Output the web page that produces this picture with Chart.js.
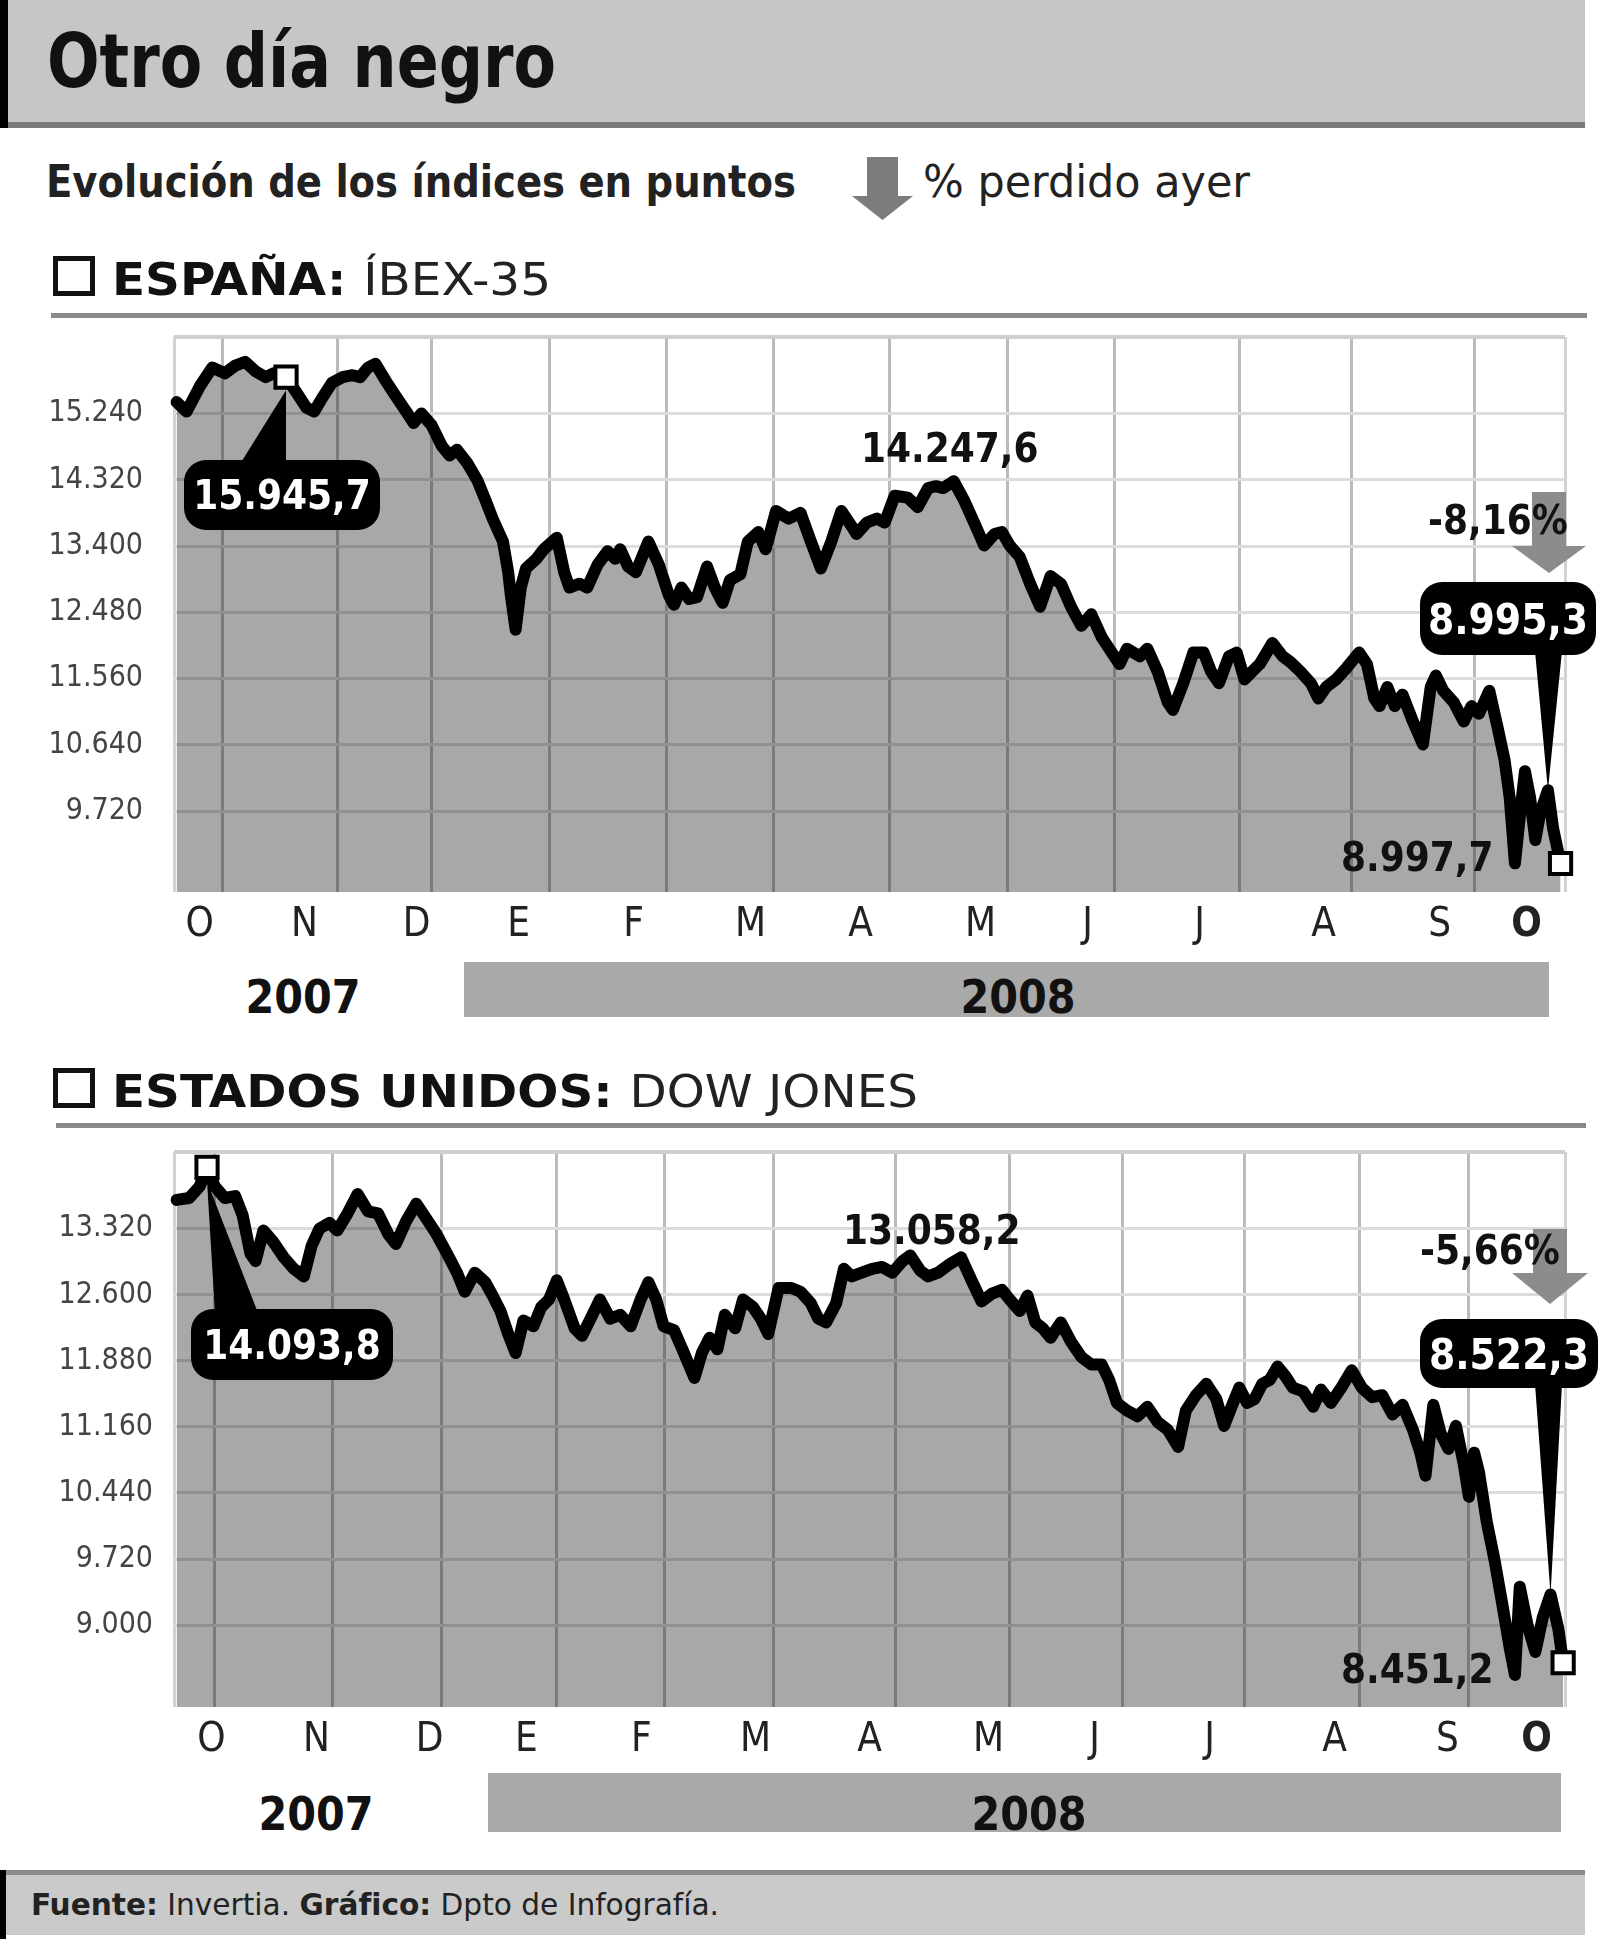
<!DOCTYPE html>
<html lang="es">
<head>
<meta charset="utf-8">
<title>Otro día negro</title>
<script src="https://cdn.jsdelivr.net/npm/chart.js@4.4.1/dist/chart.umd.min.js"></script>
<style>
  html, body { margin: 0; padding: 0; background: #fff; }
  body { position: relative; width: 1600px; height: 1939px; overflow: hidden;
         font-family: 'DejaVu Sans Condensed', 'DejaVu Sans', sans-serif; color: #111; }
  .abs { position: absolute; }
  .txt { position: absolute; white-space: nowrap; line-height: 1; transform-origin: 0 0; }
  .b { font-weight: bold; }
  .r { font-weight: normal; }
  .yr { position: absolute; width: 200px; text-align: center; font-weight: bold; font-size: 46px; line-height: 1; color: #111; }
  canvas { position: absolute; left: 0; }
</style>
</head>
<body>
<!-- header -->
<div class="abs" style="left:0;top:0;width:1585px;height:122px;background:#c6c6c6"></div>
<div class="abs" style="left:0;top:122px;width:1585px;height:6px;background:#7a7a7a"></div>
<div class="abs" style="left:0;top:0;width:8px;height:128px;background:#000"></div>
<div class="txt b" data-w="509" style="left:47px;top:24px;font-size:75px">Otro día negro</div>

<div class="txt b" data-w="750" style="left:46px;top:159px;font-size:45px;color:#222">Evolución de los índices en puntos</div>
<svg class="abs" style="left:852px;top:157px" width="61" height="63">
  <polygon points="15,0 46,0 46,39 61,39 30.5,63 0,39 15,39" fill="#7c7c7c"/>
</svg>
<div class="txt r" data-w="327" style="left:923px;top:159px;font-size:45px;color:#222">% perdido ayer</div>

<!-- section 1 -->
<div class="abs" style="left:53px;top:256px;width:32px;height:30px;border:5px solid #111;background:#fff"></div>
<div class="txt" data-w="439" style="left:112px;top:258px;font-size:44px"><span class="b">ESPAÑA: </span><span class="r" style="color:#222">ÍBEX-35</span></div>
<div class="abs" style="left:51px;top:313px;width:1536px;height:5px;background:#8a8a8a"></div>

<canvas id="ibex" width="1600" height="640" style="top:320px"></canvas>

<div class="abs" style="left:464px;top:962px;width:1085px;height:55px;background:#a9a9a9"></div>
<div class="yr" style="left:203px;top:974px">2007</div>
<div class="yr" style="left:918px;top:974px">2008</div>

<!-- section 2 -->
<div class="abs" style="left:53px;top:1068px;width:32px;height:30px;border:5px solid #111;background:#fff"></div>
<div class="txt" data-w="806" style="left:112px;top:1069px;font-size:45px"><span class="b">ESTADOS UNIDOS: </span><span class="r" style="color:#222">DOW JONES</span></div>
<div class="abs" style="left:56px;top:1123px;width:1530px;height:5px;background:#8a8a8a"></div>

<canvas id="dow" width="1600" height="640" style="top:1135px"></canvas>

<div class="abs" style="left:488px;top:1773px;width:1073px;height:59px;background:#a9a9a9"></div>
<div class="yr" style="left:216px;top:1791px">2007</div>
<div class="yr" style="left:929px;top:1791px">2008</div>

<!-- footer -->
<div class="abs" style="left:0;top:1870px;width:1585px;height:65px;background:#cacaca"></div>
<div class="abs" style="left:0;top:1870px;width:1585px;height:5px;background:#8a8a8a"></div>
<div class="abs" style="left:0;top:1870px;width:6px;height:69px;background:#000"></div>
<div class="txt" data-w="688" style="left:31px;top:1890px;font-size:30px;color:#222"><span class="b">Fuente:</span> <span class="r">Invertia.</span> <span class="b">Gráfico:</span> <span class="r">Dpto de Infografía.</span></div>

<script>
// month initials along the x axis
const months = ['O', 'N', 'D', 'E', 'F', 'M', 'A', 'M', 'J', 'J', 'A', 'S', 'O'];

// IBEX-35: day (from start of Oct 2007) and close in points
const ibexDays = [0.7, 3.4, 6.9, 10.3, 13.7, 16.5, 19.2, 22.0, 24.7, 26.8,
  30.2, 33.0, 35.7, 37.8, 39.9, 42.6, 45.4, 48.1, 50.2, 52.3,
  54.3, 57.1, 59.8, 62.6, 64.6, 66.7, 69.4, 72.2, 74.3, 76.3,
  79.1, 81.8, 83.9, 85.9, 88.7, 90.1, 90.8, 92.1, 93.5, 94.9,
  97.7, 99.7, 103.2, 105.2, 106.6, 109.3, 111.4, 114.2, 116.9, 119.0,
  120.3, 122.4, 124.5, 127.9, 130.7, 133.4, 134.8, 136.8, 138.9, 141.0,
  143.7, 145.8, 147.9, 149.9, 152.7, 154.7, 157.5, 159.5, 162.3, 165.7,
  168.9, 171.7, 174.4, 177.2, 179.9, 182.7, 184.0, 186.8, 189.5, 191.6,
  194.3, 197.8, 200.5, 203.3, 205.4, 207.4, 210.2, 212.9, 215.7, 218.4,
  221.2, 223.2, 225.3, 228.0, 230.8, 233.5, 236.3, 239.1, 241.8, 244.6,
  247.3, 250.1, 252.8, 254.9, 256.9, 260.4, 262.4, 265.2, 267.9, 269.3,
  272.1, 274.8, 277.6, 279.6, 281.7, 284.4, 286.5, 288.6, 290.6, 292.7,
  296.1, 298.9, 301.0, 303.7, 306.5, 308.5, 310.6, 313.3, 316.1, 319.5,
  321.6, 323.6, 325.0, 327.1, 329.1, 331.2, 334.0, 336.7, 338.8, 340.2,
  342.2, 345.0, 347.7, 349.8, 351.8, 354.6, 356.7, 358.7, 360.1, 361.5,
  362.8, 364.2, 365.6, 367.0, 368.3, 370.4, 371.8, 373.8];
const ibexVals = [15398, 15266, 15611, 15876, 15796, 15903, 15956, 15823, 15743, 15796,
  15743, 15531, 15319, 15266, 15451, 15664, 15743, 15770, 15743, 15876,
  15929, 15690, 15478, 15266, 15106, 15239, 15080, 14788, 14655, 14735,
  14549, 14310, 14045, 13780, 13461, 13036, 12718, 12240, 12824, 13089,
  13222, 13355, 13514, 13036, 12824, 12877, 12824, 13142, 13328, 13222,
  13355, 13116, 13036, 13461, 13142, 12718, 12585, 12824, 12665, 12691,
  13116, 12824, 12612, 12930, 13010, 13461, 13594, 13355, 13886, 13780,
  13860, 13461, 13089, 13461, 13886, 13674, 13567, 13726, 13780, 13726,
  14098, 14071, 13939, 14204, 14231, 14204, 14300, 14045, 13726, 13408,
  13567, 13594, 13408, 13249, 12877, 12559, 12983, 12877, 12559, 12293,
  12452, 12134, 11922, 11762, 11975, 11869, 11975, 11656, 11232, 11126,
  11497, 11922, 11922, 11656, 11497, 11869, 11922, 11550, 11656, 11762,
  12054, 11869, 11789, 11656, 11497, 11285, 11444, 11550, 11709, 11922,
  11762, 11285, 11179, 11444, 11179, 11338, 10966, 10648, 11444, 11603,
  11391, 11232, 10966, 11179, 11073, 11391, 10913, 10435, 9905, 8998,
  9639, 10276, 9905, 9321, 9692, 10011, 9480, 8995.3];
const ibexTicks = [9720, 10640, 11560, 12480, 13400, 14320, 15240];
const ibexGridDays = [13.0, 44.0, 69.4, 101.1, 132.7, 161.6, 193.0, 224.6, 253.5, 287.2, 317.4, 350.5];
const ibexLabelDays = [6.9, 35.2, 65.4, 92.9, 123.9, 155.4, 185.1, 217.4, 246.3, 276.5, 309.9, 341.2, 364.6];

// Dow Jones
const dowDays = [0.7, 4.1, 6.9, 8.9, 11.0, 13.7, 16.5, 18.5, 20.6, 22.0,
  24.1, 26.8, 29.6, 32.3, 35.0, 37.1, 39.2, 41.9, 44.0, 46.8,
  49.5, 52.3, 55.0, 57.8, 59.8, 62.6, 65.3, 68.1, 70.8, 73.6,
  76.3, 78.4, 81.1, 83.9, 85.9, 88.0, 90.1, 92.1, 94.2, 96.9,
  99.0, 101.1, 103.2, 105.2, 108.0, 110.0, 112.8, 114.8, 117.6, 120.3,
  123.1, 125.8, 127.9, 130.0, 132.0, 134.8, 137.5, 140.3, 142.3, 144.4,
  146.5, 148.5, 151.3, 153.4, 156.1, 158.2, 160.2, 163.0, 166.4, 168.9,
  171.7, 173.7, 175.8, 178.5, 180.6, 182.7, 185.4, 188.2, 190.9, 193.7,
  196.4, 198.5, 201.2, 203.3, 206.0, 208.8, 212.2, 215.0, 217.7, 220.5,
  223.2, 225.3, 228.0, 230.1, 232.2, 234.2, 236.3, 239.1, 241.8, 244.6,
  247.3, 250.1, 252.1, 254.2, 256.9, 259.7, 262.4, 265.2, 267.9, 270.7,
  272.8, 275.5, 278.3, 281.0, 283.1, 285.1, 287.2, 289.3, 291.3, 293.4,
  295.4, 297.5, 299.6, 301.6, 304.4, 307.1, 309.2, 311.9, 314.7, 317.5,
  320.2, 323.0, 325.7, 328.5, 331.2, 334.0, 336.0, 337.4, 339.5, 341.5,
  343.6, 345.6, 347.7, 349.1, 350.5, 351.8, 353.9, 356.0, 358.0, 360.1,
  361.5, 362.8, 364.9, 367.0, 369.0, 371.1, 373.2, 374.5];
const dowVals = [13633, 13654, 13779, 13988, 13779, 13654, 13675, 13466, 13049, 12966,
  13299, 13174, 13007, 12882, 12799, 13132, 13320, 13383, 13299, 13487,
  13696, 13508, 13487, 13258, 13153, 13404, 13592, 13425, 13258, 13049,
  12840, 12632, 12840, 12736, 12590, 12423, 12172, 11964, 12319, 12256,
  12465, 12548, 12757, 12548, 12235, 12152, 12381, 12548, 12340, 12381,
  12256, 12548, 12736, 12548, 12256, 12214, 11964, 11692, 11964, 12131,
  12005, 12381, 12235, 12548, 12465, 12340, 12172, 12673, 12673, 12632,
  12506, 12340, 12298, 12506, 12882, 12799, 12840, 12882, 12903, 12840,
  12966, 13028, 12861, 12799, 12840, 12924, 13007, 12757, 12527, 12611,
  12653, 12548, 12423, 12590, 12298, 12235, 12131, 12298, 12089, 11922,
  11839, 11839, 11672, 11421, 11338, 11275, 11379, 11212, 11129, 10941,
  11338, 11505, 11630, 11463, 11171, 11379, 11588, 11421, 11463, 11630,
  11672, 11818, 11713, 11588, 11546, 11379, 11567, 11421, 11588, 11776,
  11588, 11484, 11505, 11296, 11400, 11129, 10878, 10628, 11400, 11087,
  10920, 11171, 10753, 10399, 10878, 10670, 10127, 9710, 9251, 8750,
  8458, 9418, 9000, 8708, 9084, 9334, 8959, 8590];
const dowTicks = [9000, 9720, 10440, 11160, 11880, 12600, 13320];
const dowGridDays = [11.0, 42.6, 72.2, 103.1, 132.1, 161.6, 194.4, 225.3, 255.6, 288.6, 319.5, 349.1];
const dowLabelDays = [10.1, 38.4, 68.9, 95.0, 126.0, 156.8, 187.5, 219.6, 248.2, 279.2, 312.9, 343.3, 367.3];

const FONT = "'DejaVu Sans Condensed', 'DejaVu Sans', sans-serif";
const fmt = v => String(v).replace(/\B(?=(\d{3})+(?!\d))/g, '.');

// stretch header texts to the measured width of the original lettering
function fitText() {
    document.querySelectorAll('[data-w]').forEach(el => {
        const w = +el.dataset.w;
        const nat = el.getBoundingClientRect().width;
        if (nat > 0) el.style.transform = `scaleX(${w / nat})`;
    });
}

// callouts, gray "% lost" arrows and value labels (positions given in page px)
function notesPlugin(top, days, vals, notes) {
    return {
        id: 'notes',
        afterDatasetsDraw(chart) {
            const ctx = chart.ctx;
            const xs = chart.scales.x, ys = chart.scales.y;
            ctx.save();

            notes.arrows.forEach(a => {
                const cx = a.x + a.w / 2;
                ctx.fillStyle = '#8c8c8c';
                ctx.fillRect(cx - 17, a.y - top, 34, a.head - a.y);
                ctx.beginPath();
                ctx.moveTo(a.x, a.head - top);
                ctx.lineTo(a.x + a.w, a.head - top);
                ctx.lineTo(cx, a.y + a.h - top);
                ctx.closePath();
                ctx.fill();
            });

            notes.texts.forEach(t => {
                ctx.font = `bold ${t.fs || 40}px ${FONT}`;
                ctx.fillStyle = '#111';
                ctx.textAlign = 'left';
                ctx.textBaseline = 'alphabetic';
                ctx.fillText(t.text, t.x, t.y - top);
            });

            notes.boxes.forEach(b => {
                const i = days.indexOf(b.day);
                const tx = xs.getPixelForValue(days[i]);
                const ty = ys.getPixelForValue(vals[i]) + b.dy;
                const by = b.side === 'top' ? b.y + 4 : b.y + b.h - 4;
                ctx.fillStyle = '#000';
                ctx.beginPath();
                ctx.moveTo(b.base[0], by - top);
                ctx.lineTo(b.base[1], by - top);
                ctx.lineTo(tx, ty);
                ctx.closePath();
                ctx.fill();

                ctx.beginPath();
                ctx.roundRect(b.x, b.y - top, b.w, b.h, 22);
                ctx.fill();
                ctx.fillStyle = '#fff';
                ctx.font = `bold ${b.fs}px ${FONT}`;
                ctx.textAlign = 'center';
                ctx.textBaseline = 'alphabetic';
                ctx.fillText(b.text, b.x + b.w / 2, b.y - top + b.h / 2 + b.fs * 0.36);
            });
            ctx.restore();
        }
    };
}

function buildChart(id, top, days, vals, o) {
    const pts = days.map((d, i) => ({ x: d, y: vals[i] }));
    const marks = o.marks.map(d => pts[days.indexOf(d)]);

    return new Chart(document.getElementById(id), {
        type: 'line',
        data: {
            datasets: [
                {
                    data: marks,
                    showLine: false,
                    pointStyle: 'rect',
                    pointRadius: 15,
                    pointBackgroundColor: '#fff',
                    pointBorderColor: '#000',
                    pointBorderWidth: 4,
                    clip: false,
                    order: 0
                },
                {
                    data: pts,
                    borderColor: '#000',
                    borderWidth: 12,
                    borderJoinStyle: 'round',
                    borderCapStyle: 'round',
                    backgroundColor: 'rgba(0,0,0,0.34)',
                    fill: 'start',
                    pointRadius: 0,
                    tension: 0,
                    clip: false,
                    order: 1
                }
            ]
        },
        options: {
            responsive: false,
            animation: false,
            devicePixelRatio: 1,
            events: [],
            layout: { autoPadding: false, padding: { top: 17, right: 35, bottom: 0, left: 0 } },
            plugins: { legend: { display: false }, tooltip: { enabled: false } },
            scales: {
                x: {
                    type: 'linear', position: 'bottom', min: 0, max: 375, weight: 0,
                    afterBuildTicks: s => { s.ticks = [0, ...o.grid, 375].map(v => ({ value: v })); },
                    afterFit: s => { s.height = 0; },
                    ticks: { display: false },
                    grid: {
                        color: c => (c.tick.value === 0 || c.tick.value === 375) ? '#d2d2d2' : '#bbbbbb',
                        lineWidth: 3,
                        drawTicks: false
                    },
                    border: { display: false }
                },
                xl: {
                    type: 'linear', position: 'bottom', min: 0, max: 375, weight: 1,
                    afterBuildTicks: s => { s.ticks = o.labels.map(v => ({ value: v })); },
                    afterFit: s => { s.height = 68; s.paddingLeft = 0; s.paddingRight = 0; },
                    ticks: {
                        autoSkip: false, maxRotation: 0, padding: 10, color: '#222',
                        font: c => ({ family: FONT, size: 40, weight: c.index === months.length - 1 ? 'bold' : 'normal' }),
                        callback: (v, i) => months[i]
                    },
                    grid: { display: false, drawTicks: false },
                    border: { display: false }
                },
                y: {
                    type: 'linear', min: o.min, max: o.max,
                    afterBuildTicks: s => { s.ticks = [...o.ticks, o.max].map(v => ({ value: v })); },
                    // fixed axis width; no extra room for the top label
                    afterFit: s => { s.width = 174; s.paddingTop = 0; s.paddingBottom = 0; },
                    ticks: {
                        padding: o.pad, color: '#444',
                        font: { family: FONT, size: 30 },
                        callback: v => v === o.max ? '' : fmt(v)
                    },
                    grid: {
                        color: c => c.tick.value === o.max ? '#cfcfcf' : '#dcdcdc',
                        lineWidth: c => c.tick.value === o.max ? 4 : 3,
                        drawTicks: false
                    },
                    border: { display: false }
                }
            }
        },
        plugins: [notesPlugin(top, days, vals, o.notes)]
    });
}

buildChart('ibex', 320, ibexDays, ibexVals, {
    min: 8600, max: 16300, ticks: ibexTicks, pad: 31,
    grid: ibexGridDays, labels: ibexLabelDays,
    marks: [30.2, 373.8],
    notes: {
        arrows: [{ x: 1512, y: 492, w: 74, h: 81, head: 546 }],
        texts: [
            { text: '14.247,6', x: 861, y: 462 },
            { text: '-8,16%', x: 1428, y: 534 },
            { text: '8.997,7', x: 1341, y: 871 }
        ],
        boxes: [
            { day: 30.2, dy: 13, text: '15.945,7', x: 184, y: 460, w: 196, h: 70, side: 'top', base: [240, 286], fs: 40 },
            { day: 370.4, dy: 0, text: '8.995,3', x: 1420, y: 582, w: 176, h: 73, side: 'bottom', base: [1535, 1562], fs: 42 }
        ]
    }
});

buildChart('dow', 1135, dowDays, dowVals, {
    min: 8108, max: 14155, ticks: dowTicks, pad: 21,
    grid: dowGridDays, labels: dowLabelDays,
    marks: [8.9, 374.5],
    notes: {
        arrows: [{ x: 1512, y: 1229, w: 76, h: 75, head: 1273 }],
        texts: [
            { text: '13.058,2', x: 843, y: 1244 },
            { text: '-5,66%', x: 1420, y: 1264 },
            { text: '8.451,2', x: 1341, y: 1683 }
        ],
        boxes: [
            { day: 8.9, dy: 14, text: '14.093,8', x: 191, y: 1309, w: 202, h: 71, side: 'top', base: [215, 258], fs: 40 },
            { day: 371.1, dy: 0, text: '8.522,3', x: 1420, y: 1319, w: 178, h: 69, side: 'bottom', base: [1535, 1562], fs: 42 }
        ]
    }
});

fitText();
</script>
</body>
</html>
